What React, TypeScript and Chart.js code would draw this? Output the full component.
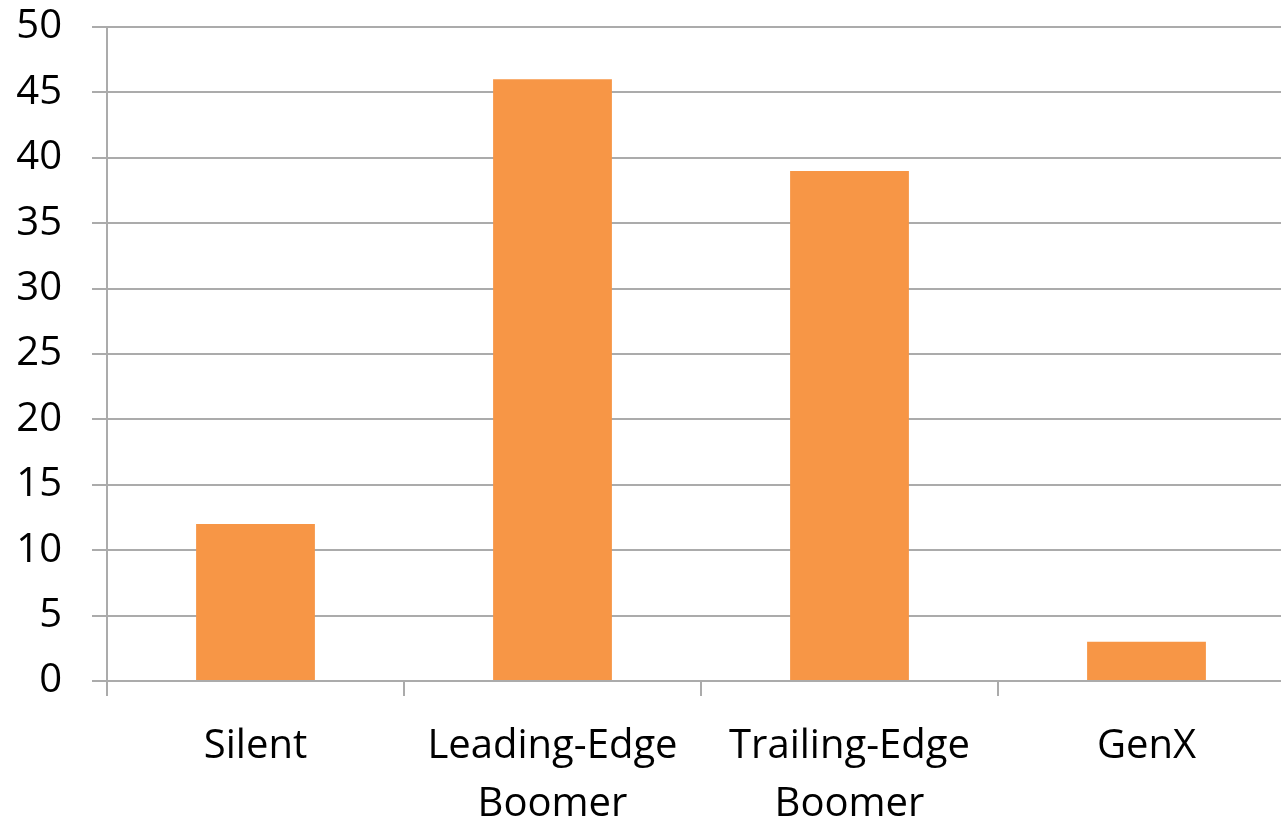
import React, { useEffect, useRef } from "react";
import { Chart, registerables } from "chart.js";

Chart.register(...registerables);

const categories: (string | string[])[] = [
  "Silent",
  ["Leading-Edge", "Boomer"],
  ["Trailing-Edge", "Boomer"],
  "GenX",
];
const values: number[] = [12, 46, 39, 3];
const yMin = 0;
const yMax = 50;
const yStep = 5;

const GRID = "#ababab";
const FONT = "'Open Sans', sans-serif";
const SHIFT = 27;

export default function App() {
  const ref = useRef<HTMLCanvasElement | null>(null);
  useEffect(() => {
    if (!ref.current) return;
    const chart = new Chart(ref.current, {
      type: "bar",
      data: {
        labels: categories,
        datasets: [
          {
            data: values,
            backgroundColor: "#F79646",
            borderWidth: 0,
            barPercentage: 0.4,
            categoryPercentage: 1,
          },
        ],
      },
      options: {
        animation: false,
        responsive: false,
        maintainAspectRatio: false,
        layout: { padding: { top: 0, right: 0, left: 0, bottom: 0 } },
        plugins: { legend: { display: false }, tooltip: { enabled: false } },
        scales: {
          x: {
            grid: {
              offset: true,
              drawOnChartArea: false,
              drawTicks: true,
              tickLength: 15,
              color: GRID,
              lineWidth: 2,
            },
            border: { display: true, color: GRID, width: 2 },
            ticks: {
              color: "#000",
              font: { family: FONT, size: 40, lineHeight: 1.45 },
              padding: 22,
              maxRotation: 0,
              autoSkip: false,
            },
            afterFit: (s: any) => {
              s.height = 824 - 681;
            },
          },
          y: {
            min: yMin,
            max: yMax,
            ticks: {
              stepSize: yStep,
              color: "#000",
              font: { family: FONT, size: 40 },
              padding: 30,
            },
            grid: {
              color: GRID,
              lineWidth: 2,
              tickLength: 15,
              drawTicks: true,
            },
            border: { display: true, color: GRID, width: 2 },
            afterFit: (s: any) => {
              s.width = 107;
            },
          },
        },
      },
    });
    return () => chart.destroy();
  }, []);
  return (
    <div
      style={{
        position: "fixed",
        left: 0,
        top: 0,
        width: 1281,
        height: 824,
        overflow: "hidden",
        background: "#fff",
      }}
    >
      <canvas
        ref={ref}
        width={1295}
        height={824 + SHIFT}
        style={{ display: "block", marginTop: -SHIFT }}
      />
    </div>
  );
}
